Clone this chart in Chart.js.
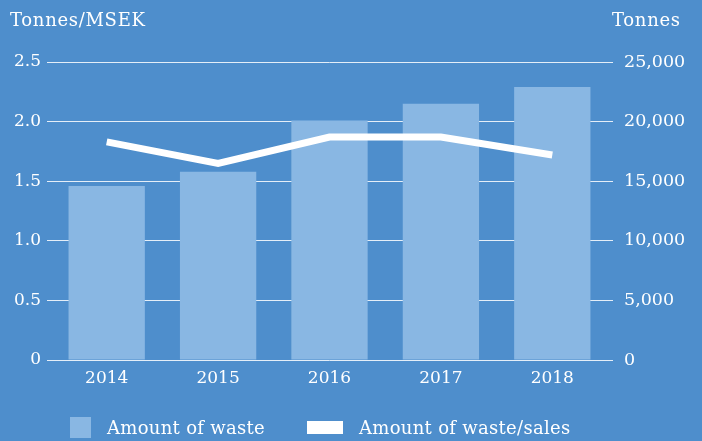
<!DOCTYPE html>
<html>
<head>
<meta charset="utf-8">
<script src="https://cdn.jsdelivr.net/npm/chart.js@4"></script>
<style>
    html, body { margin: 0; padding: 0; background: #4e8ecc; }
    #wrap { position: relative; width: 702px; height: 441px; }
    #legend {
        position: absolute; top: 414px; left: 0; width: 702px; height: 26px;
        font-family: "DejaVu Serif", serif; font-size: 18px; letter-spacing: 0.3px; color: #fff;
    }
    .item { position: absolute; top: 0; display: flex; align-items: center; height: 26px; }
    .box { display: inline-block; margin-right: 16px; }
</style>
</head>
<body>
<div id="wrap">
    <canvas id="chart" width="702" height="441"></canvas>
    <div id="legend">
        <div class="item" style="left:70px"><span class="box" style="width:21px;height:21px;background:#89b7e3"></span>Amount of waste</div>
        <div class="item" style="left:307px"><span class="box" style="width:36px;height:13px;background:#fff"></span>Amount of waste/sales</div>
    </div>
</div>
<script>
const years = ["2014", "2015", "2016", "2017", "2018"];
const wasteTonnes = [14600, 15800, 20100, 21500, 22900];
const wastePerSales = [1.83, 1.65, 1.87, 1.87, 1.72];
const leftTicks = [0, 0.5, 1.0, 1.5, 2.0, 2.5];
const rightTicks = [0, 5000, 10000, 15000, 20000, 25000];

const font = { family: "DejaVu Serif", size: 17 };

const axisTitles = {
    id: "axisTitles",
    afterDraw(chart) {
        const ctx = chart.ctx;
        ctx.save();
        ctx.fillStyle = "#fff";
        ctx.font = "18px 'DejaVu Serif'";
        ctx.letterSpacing = "0.7px";
        ctx.textBaseline = "alphabetic";
        ctx.textAlign = "left";
        ctx.fillText("Tonnes/MSEK", 10, 26);
        ctx.fillText("Tonnes", 612, 26);
        ctx.restore();
    }
};

new Chart(document.getElementById("chart"), {
    data: {
        labels: years,
        datasets: [
            {
                type: "line",
                label: "Amount of waste/sales",
                data: wastePerSales,
                yAxisID: "y",
                borderColor: "#fff",
                borderWidth: 7,
                borderJoinStyle: "miter",
                pointRadius: 0,
                tension: 0,
                order: 0,
            },
            {
                type: "bar",
                label: "Amount of waste",
                data: wasteTonnes,
                yAxisID: "y2",
                backgroundColor: "#89b7e3",
                barPercentage: 0.685,
                categoryPercentage: 1,
                order: 1,
            },
        ],
    },
    options: {
        responsive: false,
        animation: false,
        layout: { padding: { top: 62, left: 0, right: 0, bottom: 0 } },
        plugins: { legend: { display: false }, tooltip: { enabled: false } },
        scales: {
            x: {
                grid: { display: false },
                border: { display: false },
                ticks: { color: "#fff", font: font, padding: 0 },
                afterFit: (s) => { s.height = 81; },
            },
            y: {
                position: "left",
                min: 0,
                max: 2.5,
                afterBuildTicks: (s) => { s.ticks = leftTicks.map((v) => ({ value: v })); },
                grid: { color: "rgba(255,255,255,0.85)", lineWidth: 1, tickLength: 4, drawTicks: true },
                border: { display: false },
                ticks: { color: "#fff", font: font, padding: 6, callback: (v) => (v === 0 ? "0" : v.toFixed(1)) },
                afterFit: (s) => { s.width = 51; },
            },
            y2: {
                position: "right",
                min: 0,
                max: 25000,
                afterBuildTicks: (s) => { s.ticks = rightTicks.map((v) => ({ value: v })); },
                grid: { drawOnChartArea: false, color: "rgba(255,255,255,0.85)", tickLength: 5 },
                border: { display: false },
                ticks: { color: "#fff", font: { family: "DejaVu Serif", size: 17.5 }, padding: 11, callback: (v) => v.toLocaleString("en-US") },
                afterFit: (s) => { s.width = 94; },
            },
        },
    },
    plugins: [axisTitles],
});
</script>
</body>
</html>
